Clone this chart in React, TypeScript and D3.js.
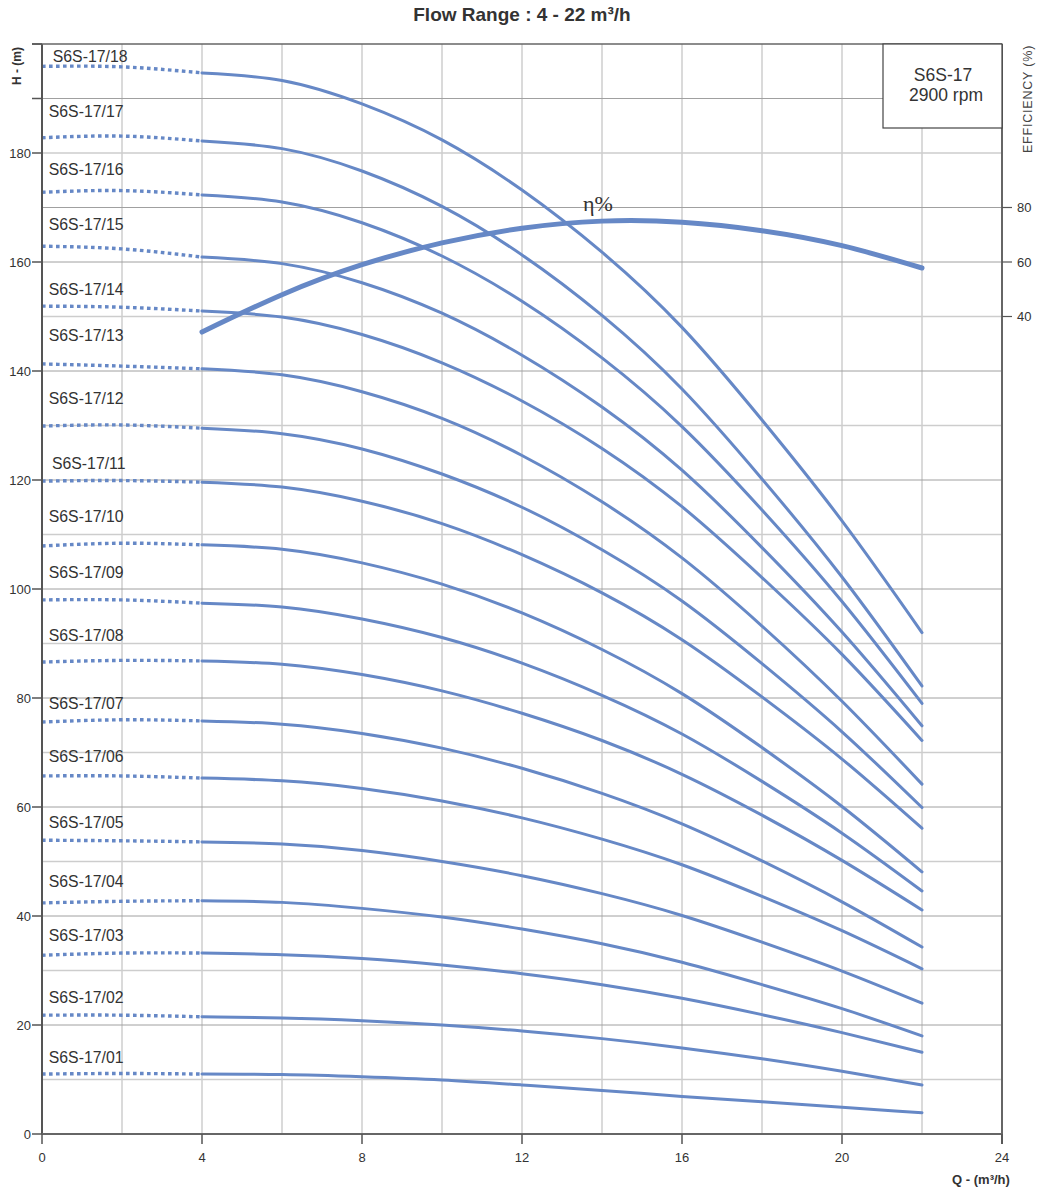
import React from "react";
import * as d3 from "d3";

const flowPoints = [0, 2, 4, 6, 8, 10, 12, 14, 16, 18, 20, 22];
const dottedEnd = 4;

const stageNames = [
  "S6S-17/01", "S6S-17/02", "S6S-17/03", "S6S-17/04", "S6S-17/05", "S6S-17/06",
  "S6S-17/07", "S6S-17/08", "S6S-17/09", "S6S-17/10", "S6S-17/11", "S6S-17/12",
  "S6S-17/13", "S6S-17/14", "S6S-17/15", "S6S-17/16", "S6S-17/17", "S6S-17/18",
];

const h01 = [11.0, 11.1, 11.0, 10.9, 10.5, 9.9, 9.0, 8.0, 6.9, 5.9, 4.9, 3.9];
const h02 = [21.8, 21.8, 21.5, 21.3, 20.8, 20.0, 18.9, 17.5, 15.8, 13.8, 11.5, 9.0];
const h03 = [32.8, 33.2, 33.2, 32.9, 32.2, 31.0, 29.4, 27.4, 24.9, 21.9, 18.6, 15.0];
const h04 = [42.4, 42.7, 42.8, 42.5, 41.4, 39.8, 37.6, 34.9, 31.5, 27.4, 23.0, 18.0];
const h05 = [53.9, 53.8, 53.6, 53.2, 52.0, 50.0, 47.4, 44.1, 40.1, 35.2, 29.9, 24.0];
const h06 = [65.7, 65.7, 65.3, 64.8, 63.4, 61.1, 58.0, 54.1, 49.4, 43.6, 37.3, 30.3];
const h07 = [75.6, 76.0, 75.8, 75.2, 73.5, 70.8, 67.1, 62.5, 56.9, 50.1, 42.6, 34.3];
const h08 = [86.6, 86.9, 86.8, 86.2, 84.3, 81.3, 77.2, 72.2, 66.0, 58.5, 50.2, 41.1];
const h09 = [98.0, 98.0, 97.4, 96.7, 94.5, 91.1, 86.4, 80.5, 73.4, 64.7, 55.2, 44.6];
const h10 = [107.9, 108.4, 108.1, 107.3, 104.8, 100.9, 95.6, 88.9, 80.8, 70.9, 60.1, 48.1];
const h11 = [119.8, 119.9, 119.6, 118.7, 116.1, 112.0, 106.3, 99.3, 90.7, 80.2, 68.8, 56.1];
const h12 = [129.9, 130.1, 129.5, 128.5, 125.7, 121.1, 115.0, 107.2, 97.8, 86.3, 73.8, 59.9];
const h13 = [141.3, 140.9, 140.4, 139.3, 136.2, 131.3, 124.5, 116.0, 105.7, 93.2, 79.4, 64.2];
const h14 = [151.9, 151.7, 151.0, 149.9, 146.7, 141.5, 134.5, 125.8, 115.1, 102.1, 88.0, 72.2];
const h15 = [162.9, 162.4, 160.9, 159.7, 156.2, 150.6, 142.9, 133.4, 121.8, 107.6, 92.1, 74.9];
const h16 = [172.8, 173.1, 172.3, 171.0, 167.2, 161.1, 152.8, 142.4, 129.8, 114.5, 97.7, 79.0];
const h17 = [182.8, 183.1, 182.2, 180.8, 176.7, 170.2, 161.3, 150.2, 136.7, 120.2, 102.2, 82.2];
const h18 = [195.9, 195.8, 194.7, 193.3, 189.0, 182.4, 173.2, 161.8, 148.0, 131.0, 112.5, 92.0];

const stageHeads = [h01, h02, h03, h04, h05, h06, h07, h08, h09, h10, h11, h12, h13, h14, h15, h16, h17, h18];

// label anchor (flow, head) in data units
const labelFlows = [0.17, 0.17, 0.17, 0.17, 0.17, 0.17, 0.17, 0.17, 0.17, 0.17, 0.25, 0.17, 0.17, 0.17, 0.17, 0.17, 0.17, 0.27];
const labelHeads = [13.0, 24.0, 35.4, 45.3, 56.1, 68.3, 78.0, 90.5, 102.0, 112.3, 122.0, 133.9, 145.5, 153.9, 165.9, 176.0, 186.6, 196.7];

const effFlow = [4, 6, 8, 10, 12, 14, 16, 18, 20, 22];
const effValues = [34.3, 48, 59, 67, 72.4, 75, 74.6, 71.5, 66, 57.8];

const xTicks = [0, 4, 8, 12, 16, 20, 24];
const yTicks = [0, 20, 40, 60, 80, 100, 120, 140, 160, 180];
const yTickMarks = [0, 20, 40, 60, 80, 100, 120, 140, 160, 180, 190, 200];
const effTicks = [40, 60, 80];
const vGrid = [2, 4, 6, 8, 10, 12, 14, 16, 18, 20, 22];
const hGrid = [10, 20, 30, 40, 50, 60, 70, 80, 90, 100, 110, 120, 130, 140, 150, 160, 170, 180, 190];
const darkGrid = [20, 40, 60, 80, 100, 120, 140, 160, 170, 190];

const BLUE = "#6688c6";
const FONT = "'Liberation Sans', Arial, sans-serif";

export default function App() {
  const x = d3.scaleLinear().domain([0, 24]).range([42, 1002]);
  const y = d3.scaleLinear().domain([0, 200]).range([1134, 44]);
  const effY = d3.scaleLinear().domain([0, 100]).range([y(130), y(180)]);

  const line = d3
    .line<[number, number]>()
    .x((d) => x(d[0]))
    .y((d) => y(d[1]))
    .curve(d3.curveNatural);

  const effLine = d3
    .line<[number, number]>()
    .x((d) => x(d[0]))
    .y((d) => effY(d[1]))
    .curve(d3.curveNatural);

  const effPts = effFlow.map((q, i) => [q, effValues[i]] as [number, number]);

  return (
    <svg
      width={1040}
      height={1191}
      style={{ position: "absolute", left: 0, top: 0, background: "#fff" }}
      fontFamily={FONT}
    >
      <rect x={0} y={0} width={1040} height={1191} fill="#fff" />
      {/* grid */}
      {vGrid.map((q) => (
        <line key={"v" + q} x1={x(q)} x2={x(q)} y1={y(0)} y2={y(200)} stroke="#c6c6c6" strokeWidth={1.3} />
      ))}
      {hGrid.map((h) => {
        const dark = darkGrid.includes(h);
        return (
          <line
            key={"h" + h}
            x1={x(0)}
            x2={x(24)}
            y1={y(h)}
            y2={y(h)}
            stroke={dark ? "#a0a0a0" : "#cdcdcd"}
            strokeWidth={dark ? 1 : 1.6}
          />
        );
      })}

      {/* pump curves */}
      {stageHeads.map((hs, i) => {
        const pts = flowPoints.map((q, j) => [q, hs[j]] as [number, number]);
        const dotted = pts.filter((p) => p[0] <= dottedEnd);
        const solid = pts.filter((p) => p[0] >= dottedEnd);
        return (
          <g key={stageNames[i]}>
            <path d={line(dotted) || ""} fill="none" stroke={BLUE} strokeWidth={3.4} strokeDasharray="3.6 3.4" />
            <path d={line(solid) || ""} fill="none" stroke={BLUE} strokeWidth={3} strokeLinecap="round" />
          </g>
        );
      })}

      {/* efficiency */}
      <path d={effLine(effPts) || ""} fill="none" stroke={BLUE} strokeWidth={5} strokeLinecap="round" />
      <text x={583} y={211} fontFamily="'Liberation Serif', 'DejaVu Serif', serif" fontSize={22} fill="#333">
        η%
      </text>

      {/* curve labels */}
      {stageNames.map((n, i) => (
        <text key={"l" + n} x={x(labelFlows[i])} y={y(labelHeads[i])} fontSize={15.8} fill="#333">
          {n}
        </text>
      ))}

      {/* axes */}
      <line x1={x(0)} x2={x(0)} y1={y(200)} y2={y(0)} stroke="#555" strokeWidth={2} />
      <line x1={x(0)} x2={x(24)} y1={y(0)} y2={y(0)} stroke="#666" strokeWidth={2} />
      <line x1={x(24)} x2={x(24)} y1={y(200)} y2={y(0) + 10} stroke="#666" strokeWidth={2} />
      <line x1={32} x2={x(24)} y1={y(200)} y2={y(200)} stroke="#666" strokeWidth={1.5} />
      {yTickMarks.map((t) => (
        <line key={"yt" + t} x1={x(0) - 10} x2={x(0)} y1={y(t)} y2={y(t)} stroke="#555" strokeWidth={1.5} />
      ))}
      {yTicks.map((t) => (
        <text key={"yl" + t} x={x(0) - 11} y={y(t) + 4.5} textAnchor="end" fontSize={13} fill="#333">
          {t}
        </text>
      ))}
      {xTicks.map((t) => (
        <g key={"xt" + t}>
          <line x1={x(t)} x2={x(t)} y1={y(0)} y2={y(0) + 10} stroke="#555" strokeWidth={1.5} />
          <text x={x(t)} y={y(0) + 28} textAnchor="middle" fontSize={13} fill="#333">
            {t}
          </text>
        </g>
      ))}
      {effTicks.map((t) => (
        <g key={"et" + t}>
          <line x1={x(24)} x2={x(24) + 10} y1={effY(t)} y2={effY(t)} stroke="#555" strokeWidth={1.2} />
          <text x={x(24) + 15} y={effY(t) + 4.5} fontSize={13} fill="#333">
            {t}
          </text>
        </g>
      ))}

      {/* axis titles */}
      <text x={522} y={21} textAnchor="middle" fontSize={19} fontWeight="bold" fill="#333">
        Flow Range : 4 - 22 m³/h
      </text>
      <text transform="translate(21,66) rotate(-90)" textAnchor="middle" fontSize={12} fontWeight="bold" fill="#333">
        H - (m)
      </text>
      <text transform="translate(1032,99) rotate(-90)" textAnchor="middle" fontSize={12.5} letterSpacing={0.8} fill="#444">
        EFFICIENCY (%)
      </text>
      <text x={981} y={1184} textAnchor="middle" fontSize={13} fontWeight="bold" fill="#333">
        Q - (m³/h)
      </text>

      {/* legend box */}
      <rect x={883} y={44} width={x(24) - 883} height={84} fill="#fff" stroke="#444" strokeWidth={1.2} />
      <text x={943} y={81} textAnchor="middle" fontSize={17.5} fill="#333">
        S6S-17
      </text>
      <text x={946} y={101} textAnchor="middle" fontSize={17.5} fill="#333">
        2900 rpm
      </text>
    </svg>
  );
}
